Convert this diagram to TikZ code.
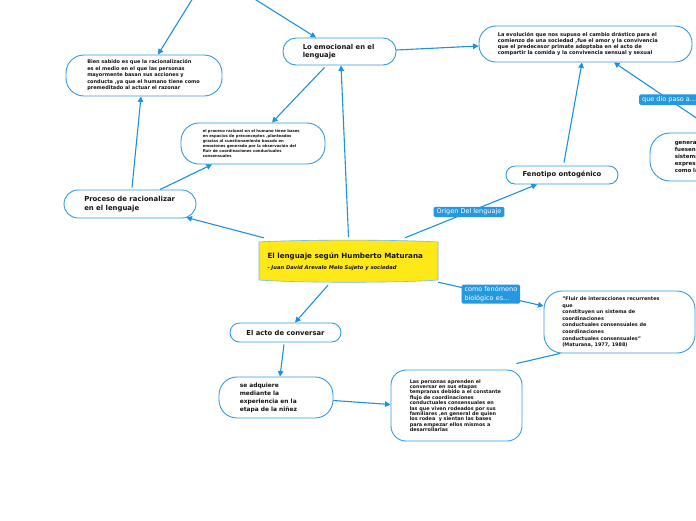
\documentclass[tikz,border=0pt]{standalone}
\usepackage{fontspec}
\setmainfont{DejaVu Sans}
\usetikzlibrary{arrows.meta,calc}
\definecolor{lcol}{RGB}{28,146,222}
\definecolor{bcol}{RGB}{48,156,228}
\definecolor{labcol}{RGB}{38,152,224}
\definecolor{yel}{RGB}{255,232,24}
\definecolor{txtc}{RGB}{20,20,20}
\newcommand{\fs}[2]{\fontsize{#1}{#2}\selectfont}
\tikzset{
  box/.style={draw=bcol, line width=0.9pt, fill=white, inner sep=0pt},
  txt/.style={inner sep=0pt, align=left, text=txtc, anchor=west},
  ctxt/.style={inner sep=0pt, align=center, text=txtc},
  arr/.style={draw=lcol, line width=1.1pt, -{Triangle[length=5.5pt,width=5.5pt]}},
  plainline/.style={draw=lcol, line width=1.1pt},
  lab/.style={fill=labcol, text=white, rounded corners=1.5pt, inner xsep=3pt, inner ysep=2pt, align=left, font=\fs{6.5}{8.5}}
}
\begin{document}
\begin{tikzpicture}[x=1pt,y=-1pt]
\useasboundingbox (0,0) rectangle (696,520);
\clip (0,0) rectangle (696,520);
\fill[white] (0,0) rectangle (696,520);

% boxes
\node[box, minimum width=156, minimum height=41, rounded corners=18] (n1) at (144,75.5) {};
\node[box, minimum width=144, minimum height=41, rounded corners=18] (n2) at (253,143.5) {};
\node[box, minimum width=113, minimum height=27, rounded corners=13] (n3) at (339.5,51.5) {};
\node[box, minimum width=213, minimum height=36, rounded corners=17] (n4) at (585.5,44) {};
\node[box, minimum width=120, minimum height=48, rounded corners=20] (n5) at (710,157) {};
\node[box, minimum width=112, minimum height=18, rounded corners=9] (n6) at (562,175) {};
\node[box, minimum width=132, minimum height=28, rounded corners=14] (n9) at (130,204) {};
\node[box, minimum width=151, minimum height=62, rounded corners=18] (n11) at (619.5,322) {};
\node[box, minimum width=111, minimum height=19, rounded corners=9.5] (n12) at (285.5,332.5) {};
\node[box, minimum width=114, minimum height=41, rounded corners=18] (n13) at (276,397.5) {};
\node[box, minimum width=131, minimum height=71, rounded corners=15] (n14) at (456.5,405.5) {};

% central
\fill[yel] (259,242) .. controls (300,239.5) and (398,239.5) .. (438,242) -- (438,280) .. controls (398,283) and (300,283) .. (259,280) -- cycle;
\draw[bcol!70, line width=0.6pt] (259,242) .. controls (300,239.5) and (398,239.5) .. (438,242) -- (438,280) .. controls (398,283) and (300,283) .. (259,280) -- cycle;
\node[inner sep=0pt, minimum width=179, minimum height=42] (n8) at (348.5,261) {};
\node[txt] (n8t) at ([xshift=8.5,yshift=-1]n8.west) {\fs{7.15}{11}\bfseries El lenguaje según Humberto Maturana\\[-1pt]\fs{5.2}{7}\bfseries\itshape - Juan David Arevalo Melo Sujeto y sociedad};

% texts
\node[txt, font=\fs{5}{6.5}\bfseries] (n1t) at ([xshift=21.5]n1.west) {Bien sabido es que la racionalización\\es el medio en el que las personas\\mayormente basan sus acciones y\\conducta ,ya que el humano tiene como\\premeditado al actuar el razonar};
\node[txt, font=\fs{3.8}{5}\bfseries] (n2t) at ([xshift=22]n2.west) {el proceso racional en el humano tiene bases\\en espacios de preconceptos ,planteados\\gracias al cuestionamiento basado en\\emociones generado por la observación del\\fluir de coordinaciones conductuales\\consensuales};
\node[txt, font=\fs{6.8}{8.7}\bfseries] (n3t) at ([xshift=20]n3.west) {Lo emocional en el\\lenguaje};
\node[txt, font=\fs{5.1}{5.8}\bfseries] (n4t) at ([xshift=19]n4.west) {La evolución que nos supuso el cambio drástico para el\\comienzo de una sociedad ,fue el amor y la convivencia\\que el predecesor primate adoptaba en el acto de\\compartir la comida y la convivencia sensual y sexual};
\node[txt, font=\fs{5.5}{7}\bfseries] (n5t) at ([xshift=25]n5.west) {generaron que\\fuesen los\\sistemas de\\expresión\\como la};
\node[ctxt, font=\fs{6.8}{8}\bfseries] (n6t) at (n6) {Fenotipo ontogénico};
\node[txt, font=\fs{6.9}{8.6}\bfseries] (n9t) at ([xshift=20.5]n9.west) {Proceso de racionalizar\\en el lenguaje};
\node[txt, font=\fs{4.9}{6.6}\bfseries] (n11t) at ([xshift=18.5]n11.west) {"Fluir de interacciones recurrentes\\que\\constituyen un sistema de\\coordinaciones\\conductuales consensuales de\\coordinaciones\\conductuales consensuales"\\(Maturana, 1977, 1988)};
\node[ctxt, font=\fs{6.8}{8}\bfseries] (n12t) at (n12) {El acto de conversar};
\node[txt, font=\fs{5.9}{8}\bfseries] (n13t) at ([xshift=21]n13.west) {se adquiere\\mediante la\\experiencia en la\\etapa de la niñez};
\node[txt, font=\fs{4.9}{5.4}\bfseries] (n14t) at ([xshift=19]n14.west) {Las personas aprenden el\\conversar en sus etapas\\tempranas debido a el constante\\flujo de coordinaciones\\conductuales consensuales en\\las que viven rodeados por sus\\familiares ,en general de quien\\los rodea\ \ y sientan las bases\\para empezar ellos mismos a\\desarrollarlas};

% free ends
\coordinate (t1) at (193,-2);
\coordinate (t2) at (253,-2);

% connectors
\draw[arr] (t1) -- ([xshift=14]n1.north);
\draw[arr] (t2) -- ([xshift=-23.5]n3.north);
\draw[arr] ([yshift=1.5]n3.east) -- ([yshift=-2]n4.west);
\draw[arr] ([xshift=-15,yshift=-2]n3.south) -- ([xshift=19]n2.north);
\draw[arr] ([yshift=3]n8.north) -- ([xshift=1.5]n3.south);
\draw[arr] ([xshift=5,yshift=2]n8.north west) -- ([xshift=-10,yshift=1]n9.south east);
\draw[arr] ([xshift=30]n9.north) -- ([xshift=-41]n2.south);
\draw[arr] ([xshift=2,yshift=2]n9.north) -- ([xshift=-3]n1.south);
\draw[arr] ([xshift=56.5,yshift=2]n8.north) -- node[lab, pos=0.485] (l1) {Origen Del lenguaje} ([xshift=-25]n6.south);
\draw[arr] ([xshift=2,yshift=3]n6.north) -- ([xshift=-3.5]n4.south);
\draw[arr] ([xshift=8]n5.north) -- node[lab, pos=0.47] (l2) {que dio paso a...} ([xshift=28.5]n4.south);
\draw[arr] (n8.south east) -- node[lab, pos=0.5] (l3) {como fenómeno\\biológico es...} ([yshift=16]n11.west);
\draw[arr] ([xshift=-20.5,yshift=-3]n8.south) -- ([xshift=9.5]n12.north);
\draw[arr] ([xshift=-1.5,yshift=-2]n12.south) -- ([xshift=4]n13.north);
\draw[arr] ([yshift=-3]n13.east) -- ([yshift=1]n14.west);
\draw[plainline] ([shift={(-6,-6)}]n14.north east) -- ([xshift=-59.5]n11.south);
\end{tikzpicture}
\end{document}
